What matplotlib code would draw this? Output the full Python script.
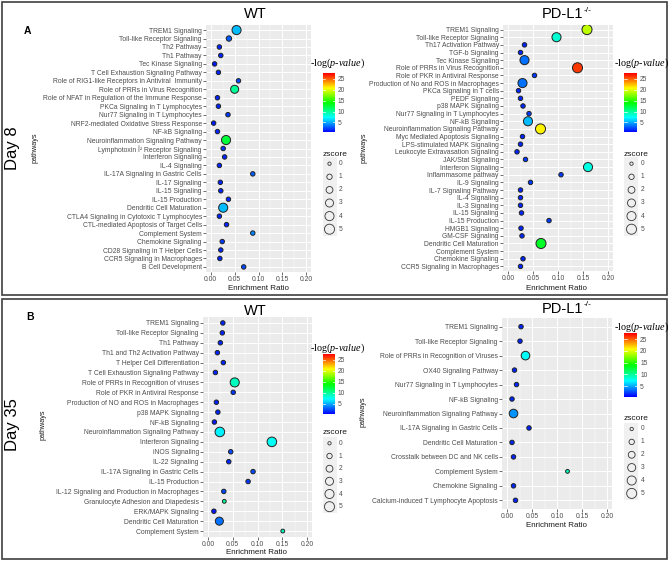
import numpy as np
import matplotlib
matplotlib.use("Agg")
import matplotlib.pyplot as plt
from matplotlib.colors import LinearSegmentedColormap, Normalize
from matplotlib.patches import Rectangle
import matplotlib.cm as cm

plt.rcParams['font.family'] = ['Liberation Sans', 'DejaVu Sans']
plt.rcParams['mathtext.fontset'] = 'custom'
plt.rcParams['mathtext.rm'] = 'Liberation Sans'
plt.rcParams['mathtext.it'] = 'Liberation Serif:italic'

# ---- data: Day 8, WT ----
wt8_paths = ["TREM1 Signaling", "Toll-like Receptor Signaling", "Th2 Pathway", "Th1 Pathway",
             "Tec Kinase Signaling", "T Cell Exhaustion Signaling Pathway",
             "Role of RIG1-like Receptors in Antiviral  Immunity", "Role of PRRs in Virus Recognition",
             "Role of NFAT in Regulation of the Immune Response", "PKCa Signaling in T Lymphocytes",
             "Nur77 Signaling in T Lymphocytes", "NRF2-mediated Oxidative Stress Response",
             "NF-kB Signaling", "Neuroinflammation Signaling Pathway", "Lymphotoxin Î² Receptor Signaling",
             "Interferon Signaling", "IL-4 Signaling", "IL-17A Signaling in Gastric Cells", "IL-17 Signaling",
             "IL-15 Signaling", "IL-15 Production", "Dendritic Cell Maturation",
             "CTLA4 Signaling in Cytotoxic T Lymphocytes", "CTL-mediated Apoptosis of Target Cells",
             "Complement System", "Chemokine Signaling", "CD28 Signaling in T Helper Cells",
             "CCR5 Signaling in Macrophages", "B Cell Development"]
wt8_ratio = [0.054, 0.038, 0.018, 0.021, 0.008, 0.016, 0.058, 0.050, 0.014, 0.016, 0.036, 0.006,
             0.014, 0.032, 0.026, 0.029, 0.018, 0.088, 0.020, 0.021, 0.037, 0.026, 0.018, 0.033,
             0.088, 0.024, 0.021, 0.019, 0.069]
wt8_logp = [5.5, 3, 1.5, 1.5, 1.2, 1.5, 2.5, 10, 1.5, 1.5, 2, 1.2, 1.5, 12.5, 2, 1.5, 1.5, 3, 1.5,
            1.5, 1.5, 5.5, 1.5, 1.5, 4, 2, 1.5, 1.5, 2.5]
wt8_z = [4, 1, 0.5, 0.5, 0.5, 0.5, 0.5, 3, 0.5, 0.5, 0.5, 0.5, 0.5, 4, 0.5, 0.5, 0.5, 0.5, 0.5,
         0.5, 0.5, 4, 0.5, 0.5, 0.5, 0.5, 0.5, 0.5, 0.5]

# ---- data: Day 8, PD-L1 -/- ----
ko8_paths = ["TREM1 Signaling", "Toll-like Receptor Signaling", "Th17 Activation Pathway", "TGF-b Signaling",
             "Tec Kinase Signaling", "Role of PRRs in Virus Recognition", "Role of PKR in Antiviral Response",
             "Production of No and ROS in Macrophages", "PKCa Signaling in T cells", "PEDF Signaling",
             "p38 MAPK Signaling", "Nur77 Signaling in T Lymphocytes", "NF-kB Signaling",
             "Neuroinflammation Signaling Pathway", "Myc Mediated Apoptosis Signaling",
             "LPS-stimulated MAPK Signaling", "Leukocyte Extravasation Signaling", "JAK/Stat Signaling",
             "Interferon Signaling", "Inflammasome pathway", "IL-9 Signaling", "IL-7 Signaling Pathway",
             "IL-4 Signaling", "IL-3 Signaling", "IL-15 Signaling", "IL-15 Production", "HMGB1 Signaling",
             "GM-CSF Signaling", "Dendritic Cell Maturation", "Complement System", "Chemokine Signaling",
             "CCR5 Signaling in Macrophages"]
ko8_ratio = [0.158, 0.097, 0.033, 0.025, 0.033, 0.139, 0.053, 0.029, 0.021, 0.025, 0.030, 0.042,
             0.040, 0.065, 0.029, 0.025, 0.018, 0.035, 0.160, 0.106, 0.045, 0.025, 0.025, 0.025,
             0.027, 0.082, 0.026, 0.028, 0.066, np.nan, 0.030, 0.025]
ko8_logp = [19, 8.5, 1.5, 1.5, 3.5, 26, 2, 3.5, 1.5, 1.5, 1.5, 2, 5.5, 21, 1.5, 1.5, 1.5, 2, 8,
            2, 2, 1.5, 1.5, 1.5, 1.5, 2, 1.5, 1.5, 13, np.nan, 1.5, 1.5]
ko8_z = [5, 4, 0.5, 0.5, 4, 5, 0.5, 4, 0.5, 0.5, 0.5, 0.5, 4, 5, 0.5, 0.5, 0.5, 0.5, 4, 0.5, 0.5,
         0.5, 0.5, 0.5, 0.5, 0.5, 0.5, 0.5, 5, np.nan, 0.5, 0.5]

# ---- data: Day 35, WT ----
wt35_paths = ["TREM1 Signaling", "Toll-like Receptor Signaling", "Th1 Pathway", "Th1 and Th2 Activation Pathway",
              "T Helper Cell Differentiation", "T Cell Exhaustion Signaling Pathway",
              "Role of PRRs in Recognition of viruses", "Role of PKR in Antiviral Response",
              "Production of NO and ROS in Macrophages", "p38 MAPK Signaling", "NF-kB Signaling",
              "Neuroinflammation Signaling Pathway", "Interferon Signaling", "iNOS Signaling",
              "IL-22 Signaling", "IL-17A Signaling in Gastric Cells", "IL-15 Production",
              "IL-12 Signaling and Production in Macrophages", "Granulocyte Adhesion and Diapedesis",
              "ERK/MAPK Signaling", "Dendritic Cell Maturation", "Complement System"]
wt35_ratio = [0.030, 0.029, 0.025, 0.019, 0.031, 0.015, 0.054, 0.051, 0.017, 0.020, 0.013, 0.024,
              0.129, 0.046, 0.042, 0.091, 0.081, 0.032, 0.033, 0.012, 0.023, 0.151]
wt35_logp = [1.5, 1.5, 1.5, 1.5, 1.5, 1.5, 9, 2, 1.5, 1.5, 1.2, 7, 7.5, 2.5, 1.5, 2.5, 2, 2.5, 10,
             1.2, 3.5, 9]
wt35_z = [0.5, 0.5, 0.5, 0.5, 0.5, 0.5, 4, 0.5, 0.5, 0.5, 0.5, 4.5, 4.5, 0.5, 0.5, 0.5, 0.5, 0.5,
          0.2, 0.5, 3, 0.2]

# ---- data: Day 35, PD-L1 -/- ----
ko35_paths = ["TREM1 Signaling", "Toll-like Receptor Signaling", "Role of PRRs in Recognition of Viruses",
              "OX40 Signaling Pathway", "Nur77 Signaling in T Lymphocytes", "NF-kB Signaling",
              "Neuroinflammation Signaling Pathway", "IL-17A Signaling in Gastric Cells",
              "Dendritic Cell Maturation", "Crosstalk between DC and NK cells", "Complement System",
              "Chemokine Signaling", "Calcium-induced T Lymphocyte Apoptosis"]
ko35_ratio = [0.028, 0.026, 0.037, 0.015, 0.019, 0.010, 0.013, 0.044, 0.010, 0.013, 0.121, 0.013, 0.017]
ko35_logp = [1.5, 1.5, 7.5, 1.5, 1.5, 1.5, 4.5, 1.5, 1.5, 1.5, 9, 1.5, 1.5]
ko35_z = [0.5, 0.5, 3.5, 0.5, 0.5, 0.5, 3.5, 0.5, 0.5, 0.5, 0.2, 0.5, 0.5]

x_ticks = [0.0, 0.05, 0.10, 0.15, 0.20]
x_ticklabels = ["0.00", "0.05", "0.10", "0.15", "0.20"]
cbar_ticks = [5, 10, 15, 20, 25]
z_levels = [0, 1, 2, 3, 4, 5]

W, H = 669, 562
fig = plt.figure(figsize=(W / 100, H / 100), dpi=100)


def px(l, t, r, b):
    return [l / W, 1 - b / H, (r - l) / W, (b - t) / H]


cmap = LinearSegmentedColormap.from_list('rb', ['#0000ff', '#00ffff', '#00ff00', '#ffff00', '#ff0000'])
norm = Normalize(0.5, 27.5)


def zsize(z):
    return 5.7 + 9.3 * np.asarray(z, dtype=float)


def dotplot(box, cats, ratio, logp, z):
    ax = fig.add_axes(px(*box))
    ax.set_facecolor('#ebebeb')
    n = len(cats)
    y = np.arange(n)[::-1]
    ax.scatter(ratio, y, s=zsize(z), c=logp, cmap=cmap, norm=norm,
               edgecolors='#222222', linewidths=0.7, zorder=3)
    ax.set_ylim(-0.6, n - 1 + 0.6)
    ax.set_xlim(-0.01, 0.21)
    ax.set_yticks(y)
    ax.set_yticklabels(cats)
    ax.set_xticks(x_ticks)
    ax.set_xticklabels(x_ticklabels)
    ax.set_xticks([0.025, 0.075, 0.125, 0.175], minor=True)
    for s in ax.spines.values():
        s.set_visible(False)
    ax.tick_params(axis='both', length=2, width=0.5, color='#333333', labelsize=4.9,
                   labelcolor='#4d4d4d', pad=1)
    ax.tick_params(which='minor', length=0)
    ax.grid(which='major', color='white', lw=0.7)
    ax.grid(which='minor', axis='x', color='white', lw=0.35)
    ax.set_axisbelow(True)
    return ax


def colorbar(l, t, r, b):
    cax = fig.add_axes(px(l, t, r, b))
    cb = fig.colorbar(cm.ScalarMappable(norm=norm, cmap=cmap), cax=cax, ticks=cbar_ticks)
    cb.outline.set_visible(False)
    cax.tick_params(length=0, labelsize=4.8, labelcolor='#4d4d4d', pad=2)
    for v in cbar_ticks:
        cax.axhline(v, xmin=0, xmax=0.2, color='white', lw=0.5)
        cax.axhline(v, xmin=0.8, xmax=1, color='white', lw=0.5)


dotplot((206, 25, 311, 272), wt8_paths, wt8_ratio, wt8_logp, wt8_z)
dotplot((503, 25, 613, 271), ko8_paths, ko8_ratio, ko8_logp, ko8_z)
dotplot((203, 317, 312, 537), wt35_paths, wt35_ratio, wt35_logp, wt35_z)
dotplot((502, 318, 612, 509), ko35_paths, ko35_ratio, ko35_logp, ko35_z)

colorbar(322.7, 73.3, 335, 132.3)
colorbar(624, 73.3, 637, 132.3)
colorbar(322.7, 354, 335, 414)
colorbar(624, 333.3, 637.3, 396.7)

# overlay in pixel coordinates for text, boxes and size legends
ov = fig.add_axes([0, 0, 1, 1])
ov.set_xlim(0, W)
ov.set_ylim(H, 0)
ov.axis('off')

ov.add_patch(Rectangle((2, 2), 665, 293, fill=False, ec='#404040', lw=1.2))
ov.add_patch(Rectangle((2, 299), 665, 260, fill=False, ec='#404040', lw=1.2))

ov.text(27.7, 31, "A", fontsize=7.5, fontweight='bold', ha='center', va='center')
ov.text(30, 317, "B", fontsize=7.5, fontweight='bold', ha='center', va='center')
ov.text(13, 148, "Day 8", fontsize=12, rotation=90, ha='center', va='center')
ov.text(13, 425, "Day 35", fontsize=12, rotation=90, ha='center', va='center')

ov.text(255.6, 14, "WT", fontsize=10.5, ha='center', va='center')
ov.text(255, 311, "WT", fontsize=10.5, ha='center', va='center')
for xx, yy in [(583, 14), (583, 309)]:
    ov.text(xx, yy, "PD-L1", fontsize=10.5, ha='right', va='center')
    ov.text(xx + 0.5, yy - 4, "-/-", fontsize=6, ha='left', va='center')

for xx, yy in [(35, 148), (364, 148), (43, 425), (363, 412)]:
    ov.text(xx, yy, "pathways", fontsize=5.2, rotation=90, ha='center', va='center', color='#1a1a1a')
for xx, yy in [(258, 288), (557, 288), (257, 552), (556, 525.7)]:
    ov.text(xx, yy, "Enrichment Ratio", fontsize=5.8, ha='center', va='center', color='#1a1a1a')

ptitle = "-log(" + r"$\mathit{p}$" + "-" + r"$\mathit{value}$" + ")"
for xx, yy in [(310, 63.3), (614, 63.3), (310, 348), (614, 327.7)]:
    ov.text(xx, yy, ptitle, fontsize=7.3, family='Liberation Serif', ha='left', va='center')


def zlegend(x0, ty, kx, rows):
    ov.text(x0, ty, "zscore", fontsize=6, ha='left', va='center', color='#1a1a1a')
    step = rows[1] - rows[0]
    ov.add_patch(Rectangle((x0, rows[0] - step / 2), 14, rows[-1] - rows[0] + step,
                           fc='#f0f0f0', ec='none'))
    ov.scatter([kx] * len(z_levels), rows, s=zsize(z_levels), facecolors='none',
               edgecolors='#333333', linewidths=0.6, zorder=3)
    for zv, yy in zip(z_levels, rows):
        ov.text(kx + 9, yy, str(zv), fontsize=4.8, ha='left', va='center', color='#4d4d4d')


rowsA = [163.7, 176.8, 189.9, 203.0, 216.1, 229.2]
zlegend(322.7, 154, 329.5, rowsA)
zlegend(624, 154, 631.5, rowsA)
zlegend(322.7, 433, 329.5, [443.3, 456, 468.7, 481.3, 494, 506.7])
zlegend(624, 418.7, 631.7, [429, 441.9, 454.8, 467.6, 480.5, 493.4])

fig.savefig("out.png", dpi=100)
